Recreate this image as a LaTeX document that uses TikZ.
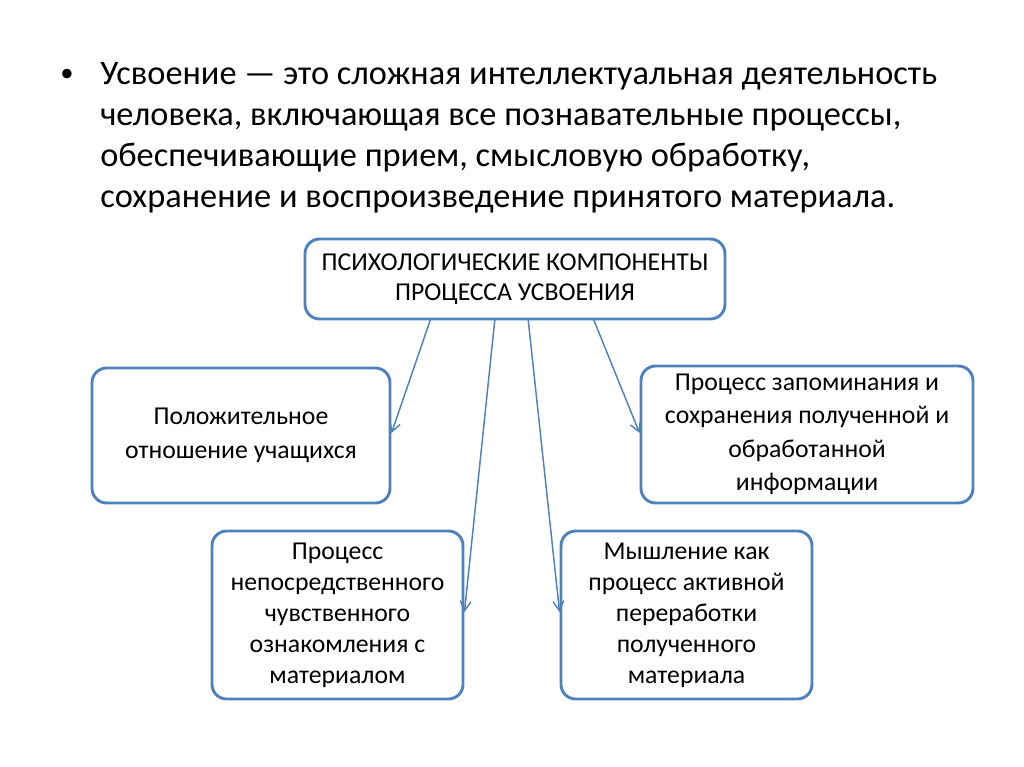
\documentclass[tikz,border=0pt]{standalone}
\usepackage{fontspec}
\setmainfont{Carlito}
\usetikzlibrary{arrows.meta}
\definecolor{bl}{HTML}{4F81BD}
\begin{document}
\begin{tikzpicture}[x=0.75pt,y=-0.75pt,
  box/.style={draw=bl,line width=2.2pt,rounded corners=11pt,align=center,inner sep=0pt,
    font=\fontsize{19.3}{25}\selectfont},
  conn/.style={draw=bl,line width=1.1pt,-{Straight Barb[length=7pt,width=8pt,line width=1.1pt]}}]
\useasboundingbox (0,0) rectangle (1024,767);
\node[anchor=base,inner sep=0pt,font=\fontsize{20}{24}\selectfont] (bul) at (67,82) {•};
\node[anchor=north west,align=left,inner sep=0pt,font=\fontsize{25.75}{30.75}\selectfont] (txt) at (100,62)
 {Усвоение — это сложная интеллектуальная деятельность\\
  человека, включающая все познавательные процессы,\\
  обеспечивающие прием, смысловую обработку,\\
  сохранение и воспроизведение принятого материала.};
\node[box,minimum width=420*0.75pt,minimum height=80*0.75pt,font=\fontsize{19.3}{23}\selectfont] (top) at (515,279)
 {ПСИХОЛОГИЧЕСКИЕ КОМПОНЕНТЫ\\ПРОЦЕССА УСВОЕНИЯ};
\node[box,minimum width=298*0.75pt,minimum height=135*0.75pt] (left) at (241,435.5)
 {Положительное\\отношение учащихся};
\node[box,minimum width=332*0.75pt,minimum height=137*0.75pt] (right) at (807,434.5)
 {Процесс запоминания и\\сохранения полученной и\\обработанной\\информации};
\node[box,minimum width=251*0.75pt,minimum height=168*0.75pt,font=\fontsize{19.3}{23.25}\selectfont] (bl) at (337.5,615)
 {Процесс\\непосредственного\\чувственного\\ознакомления с\\материалом};
\node[box,minimum width=251*0.75pt,minimum height=168*0.75pt,font=\fontsize{19.3}{23.25}\selectfont] (br) at (686.5,615)
 {Мышление как\\процесс активной\\переработки\\полученного\\материала};
\coordinate (s1) at (431,318);
\coordinate (s2) at (495,318);
\coordinate (s3) at (528,318);
\coordinate (s4) at (593,318);
\draw[conn] (s1) -- (left.east |- 0,433);
\draw[conn] (s2) -- (bl.east |- 0,612);
\draw[conn] (s3) -- (br.west |- 0,612);
\draw[conn] (s4) -- (right.west |- 0,433);
\end{tikzpicture}
\end{document}
